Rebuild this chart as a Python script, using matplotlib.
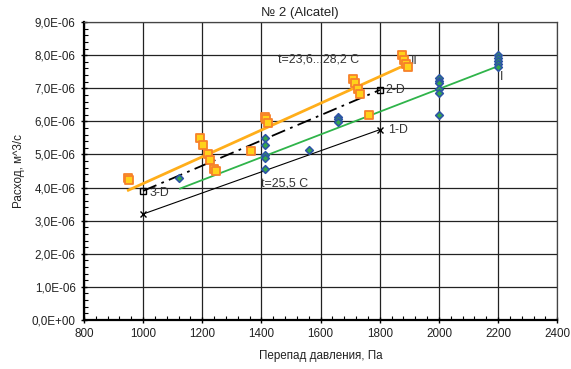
import numpy as np
import matplotlib
matplotlib.use("Agg")
import matplotlib.pyplot as plt
from matplotlib.ticker import MultipleLocator, FuncFormatter

plt.rcParams['font.family'] = ['Liberation Sans', 'DejaVu Sans']

# series I (blue diamonds)
p1 = [1121, 1413, 1413, 1413, 1413, 1413, 1562, 1658, 1658, 1658,
      2000, 2000, 2000, 2000, 2000, 2000, 2200, 2200, 2200, 2200, 2200]
q1 = [4.28, 5.50, 5.30, 4.97, 4.90, 4.55, 5.14, 6.14, 6.06, 5.97,
      7.30, 7.23, 7.16, 6.98, 6.86, 6.20, 8.01, 7.91, 7.83, 7.73, 7.65]

# series II (orange squares)
p2 = [949, 952, 1192, 1204, 1220, 1226, 1239, 1245, 1363, 1412, 1415, 1423,
      1709, 1715, 1725, 1733, 1764, 1874, 1883, 1889, 1894]
q2 = [4.30, 4.24, 5.49, 5.29, 5.00, 4.82, 4.57, 4.49, 5.11, 6.14, 6.07, 5.94,
      7.28, 7.15, 6.98, 6.83, 6.18, 8.01, 7.85, 7.73, 7.65]

# fit lines
fit1_p = [1125, 2200]
fit1_q = [3.97, 7.67]
fit2_p = [950, 1880]
fit2_q = [3.92, 7.68]

# design points
d23_p = [1000, 1800]
d23_q = [3.90, 6.95]
d1_p = [1000, 1800]
d1_q = [3.20, 5.75]

sc = 1e-6
fs = 8.4

fig, ax = plt.subplots(figsize=(5.71, 3.69), dpi=100)
fig.subplots_adjust(left=0.147, right=0.976, top=0.940, bottom=0.133)

ax.plot(fit2_p, np.array(fit2_q) * sc, color='#ffae1a', lw=2, zorder=3)
ax.plot(fit1_p, np.array(fit1_q) * sc, color='#2fb44a', lw=1.3, zorder=3)
ax.plot(d23_p, np.array(d23_q) * sc, color='black', lw=1.3, ls=(0, (8, 3, 1.5, 3)),
        marker='s', ms=5, mfc='none', mec='black', zorder=4)
ax.plot(d1_p, np.array(d1_q) * sc, color='black', lw=0.8,
        marker='x', ms=5, zorder=4)

ax.scatter(p1, np.array(q1) * sc, marker='D', s=15, facecolor='#36a84a',
           edgecolor='#2d55a5', linewidth=1.2, zorder=5)
ax.scatter(p2, np.array(q2) * sc, marker='s', s=28, facecolor='#ffd21a',
           edgecolor='#f7812a', linewidth=1.3, zorder=5)

tc = '#333333'
ax.text(1906, 7.83 * sc, 'II', fontsize=fs + 0.5, color=tc, ha='left', va='center')
ax.text(2205, 7.35 * sc, 'I', fontsize=fs + 0.5, color=tc, ha='left', va='center')
ax.text(1818, 6.95 * sc, '2-D', fontsize=fs + 0.5, color=tc, ha='left', va='center')
ax.text(1828, 5.75 * sc, '1-D', fontsize=fs + 0.5, color=tc, ha='left', va='center')
ax.text(1020, 3.83 * sc, '3-D', fontsize=fs + 0.5, color=tc, ha='left', va='center')
ax.text(1456, 7.86 * sc, 't=23,6...28,2 C', fontsize=fs + 0.5, color=tc, ha='left', va='center')
ax.text(1400, 4.13 * sc, 't=25,5 C', fontsize=fs + 0.5, color=tc, ha='left', va='center')

ax.set_xlim(800, 2400)
ax.set_ylim(0, 9e-6)
ax.xaxis.set_major_locator(MultipleLocator(200))
ax.xaxis.set_minor_locator(MultipleLocator(40))
ax.yaxis.set_major_locator(MultipleLocator(1e-6))
ax.yaxis.set_minor_locator(MultipleLocator(0.2e-6))
ax.yaxis.set_major_formatter(FuncFormatter(lambda v, pos: f"{v:.1E}".replace('.', ',')))
ax.tick_params(axis='both', which='major', labelsize=fs, direction='inout', length=5, width=1,
               labelcolor='#222222')
ax.tick_params(axis='both', which='minor', direction='in', length=3, width=0.8)
ax.grid(True, which='major', color='#222222', lw=0.9)

for s in ['left', 'bottom']:
    ax.spines[s].set_linewidth(1.6)
for s in ['top', 'right']:
    ax.spines[s].set_linewidth(0.9)
    ax.spines[s].set_color('#444444')

fig.text(300 / 571, 1 - 13 / 369, '№ 2 (Alcatel)', fontsize=9.5, ha='center', va='center', color='#222222')
ax.set_xlabel('Перепад давления, Па', fontsize=fs, labelpad=7, color='#222222')
ax.set_ylabel('Расход, м^3/с', fontsize=fs, labelpad=5, color='#222222')

fig.savefig('out.png', dpi=100)
